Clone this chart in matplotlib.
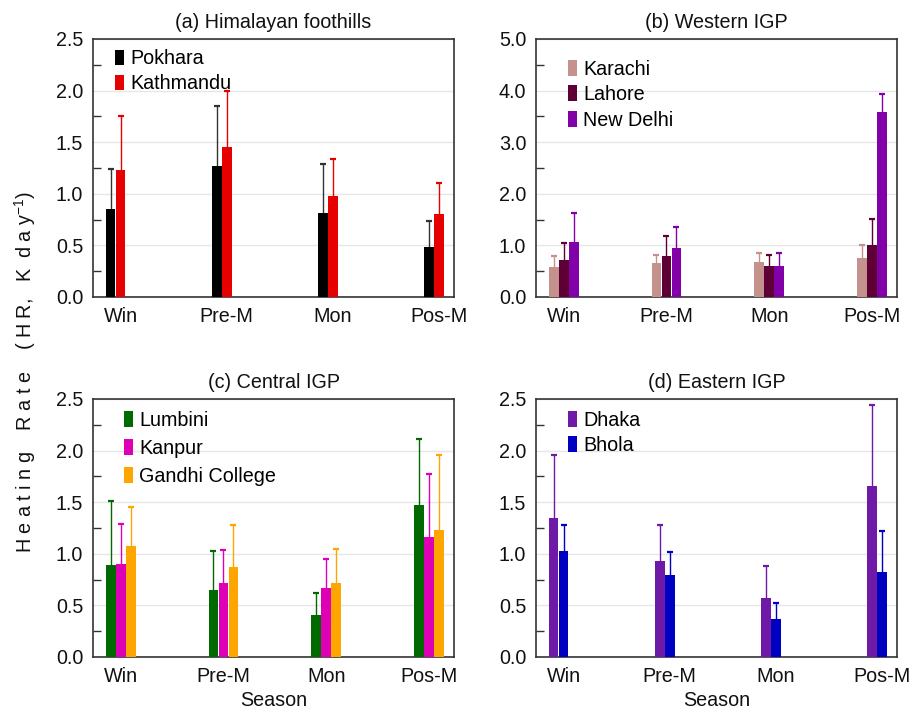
import matplotlib
matplotlib.use("Agg")
import matplotlib.pyplot as plt
from matplotlib.ticker import MultipleLocator, FormatStrFormatter
import numpy as np

plt.rcParams["font.family"] = ["Liberation Sans", "DejaVu Sans"]
plt.rcParams["mathtext.fontset"] = "custom"
plt.rcParams["mathtext.rm"] = "Liberation Sans"
plt.rcParams["mathtext.it"] = "Liberation Sans"

seasons = ["Win", "Pre-M", "Mon", "Pos-M"]

# (a) Himalayan foothills: mean heating rate and upper error bound
pokhara = [0.85, 1.27, 0.81, 0.48]
pokhara_hi = [1.24, 1.85, 1.29, 0.74]
kathmandu = [1.23, 1.45, 0.98, 0.80]
kathmandu_hi = [1.75, 2.00, 1.34, 1.10]

# (b) Western IGP
karachi = [0.58, 0.65, 0.68, 0.76]
karachi_hi = [0.80, 0.82, 0.85, 1.00]
lahore = [0.71, 0.80, 0.60, 1.00]
lahore_hi = [1.05, 1.18, 0.82, 1.51]
new_delhi = [1.06, 0.95, 0.61, 3.58]
new_delhi_hi = [1.62, 1.36, 0.85, 3.93]

# (c) Central IGP
lumbini = [0.89, 0.65, 0.41, 1.47]
lumbini_hi = [1.51, 1.03, 0.62, 2.11]
kanpur = [0.90, 0.72, 0.67, 1.16]
kanpur_hi = [1.29, 1.04, 0.95, 1.77]
gandhi = [1.08, 0.87, 0.72, 1.23]
gandhi_hi = [1.45, 1.28, 1.045, 1.955]

# (d) Eastern IGP
dhaka = [1.35, 0.935, 0.575, 1.66]
dhaka_hi = [1.955, 1.28, 0.886, 2.44]
bhola = [1.03, 0.795, 0.367, 0.82]
bhola_hi = [1.28, 1.02, 0.526, 1.22]

panels = [
    dict(title="(a) Himalayan foothills", ymax=2.5, major=0.5, fmt="%.1f",
         series=[("Pokhara", pokhara, pokhara_hi, "#000000", "#333333"),
                 ("Kathmandu", kathmandu, kathmandu_hi, "#e60000", "#e60000")],
         legend_xy=(0.061, 0.96), labelspacing=0.3),
    dict(title="(b) Western IGP", ymax=5.0, major=1.0, fmt="%.1f",
         series=[("Karachi", karachi, karachi_hi, "#c4918d", "#c4918d"),
                 ("Lahore", lahore, lahore_hi, "#5e0035", "#5e0035"),
                 ("New Delhi", new_delhi, new_delhi_hi, "#8200a8", "#8200a8")],
         legend_xy=(0.089, 0.92), labelspacing=0.33),
    dict(title="(c) Central IGP", ymax=2.5, major=0.5, fmt="%.1f",
         series=[("Lumbini", lumbini, lumbini_hi, "#006a00", "#006a00"),
                 ("Kanpur", kanpur, kanpur_hi, "#de00b4", "#de00b4"),
                 ("Gandhi College", gandhi, gandhi_hi, "#ffa500", "#ffa500")],
         legend_xy=(0.086, 0.955), labelspacing=0.46),
    dict(title="(d) Eastern IGP", ymax=2.5, major=0.5, fmt="%.1f",
         series=[("Dhaka", dhaka, dhaka_hi, "#6e1aa6", "#6e1aa6"),
                 ("Bhola", bhola, bhola_hi, "#0000c0", "#0000c0")],
         legend_xy=(0.089, 0.955), labelspacing=0.3),
]

W, H = 910, 711
fig = plt.figure(figsize=(W / 100, H / 100), dpi=100)

# axes boxes in pixels: left, top, right, bottom
boxes = [(93, 39, 454, 297), (536, 39, 897, 297),
         (93, 399, 454, 657), (536, 399, 897, 657)]

FS = 14.2
x = np.arange(len(seasons))

for i, (p, (l, t, r, b)) in enumerate(zip(panels, boxes)):
    ax = fig.add_axes([l / W, 1 - b / H, (r - l) / W, (b - t) / H])
    n = len(p["series"])
    if n == 2:
        xlim = (-0.26, 3.14)
        offsets = [-1, 0]
    else:
        xlim = (-0.27, 3.245)
        offsets = [-1, 0, 1]
    slot = 10.0 * (xlim[1] - xlim[0]) / (r - l)

    handles = []
    for k, (name, vals, hi, col, ecol) in zip(offsets, p["series"]):
        xs = x + k * slot
        vals = np.array(vals)
        hi = np.array(hi)
        bars = ax.bar(xs, vals, width=slot * 0.96, color=col, linewidth=0,
                      zorder=3, label=name)
        # upper error bar: stem from bar top plus a short cap
        ax.vlines(xs, vals, hi, colors=ecol, linewidth=1.0, zorder=2)
        ax.plot(xs, hi, linestyle="none", marker="_", markersize=4.5,
                markeredgewidth=1.6, color=ecol, zorder=2)
        handles.append(bars)

    ax.set_xlim(*xlim)
    ax.set_ylim(0, p["ymax"])
    ax.set_xticks(x)
    ax.set_xticklabels(seasons)
    ax.yaxis.set_major_locator(MultipleLocator(p["major"]))
    ax.yaxis.set_minor_locator(MultipleLocator(p["major"] / 2))
    ax.yaxis.set_major_formatter(FormatStrFormatter(p["fmt"]))
    ax.tick_params(axis="x", length=0, pad=7, labelsize=FS, colors="#111111")
    ax.tick_params(axis="y", which="major", length=0, pad=7, labelsize=FS,
                   colors="#111111")
    ax.tick_params(axis="y", which="minor", direction="in", length=6,
                   width=1.0, color="#333333")
    ax.yaxis.grid(True, which="major", color="#e6e6e6", linewidth=1.0)
    ax.set_axisbelow(True)
    for s in ax.spines.values():
        s.set_color("#333333")
        s.set_linewidth(1.2)
    ax.set_title(p["title"], fontsize=FS, pad=8, color="#111111")

    leg = ax.legend(handles=handles, loc="upper left",
                    bbox_to_anchor=p["legend_xy"], frameon=False,
                    fontsize=FS, borderpad=0, borderaxespad=0,
                    handlelength=0.46, handleheight=0.85, handletextpad=0.3,
                    labelspacing=p["labelspacing"])
    for h in leg.legend_handles:
        h.set_edgecolor("none")

    if i >= 2:
        ax.set_xlabel("Season", fontsize=FS, labelpad=4, color="#111111")

fig.text(0.028, 0.477,
         "H e a t i n g    R a t e    ( H R,   K  d a y$^{\\mathregular{-1}}$)",
         rotation=90, ha="center", va="center", fontsize=FS,
         color="#111111")

fig.savefig("out.png", dpi=100)
